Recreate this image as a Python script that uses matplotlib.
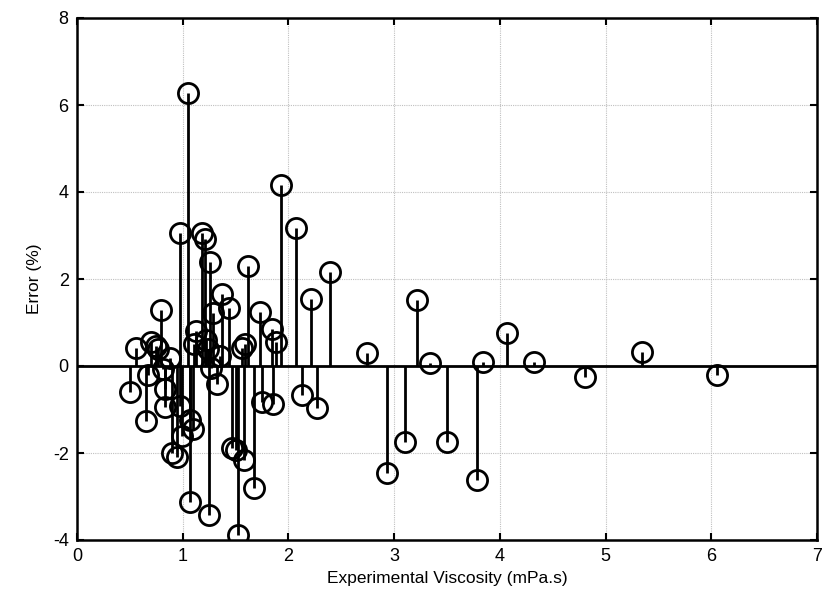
import matplotlib
matplotlib.use("Agg")
import matplotlib.pyplot as plt

viscosity = [0.50, 0.56, 0.65, 0.67, 0.70, 0.75, 0.77, 0.79, 0.81, 0.83, 0.83, 0.88,
             0.90, 0.95, 0.97, 0.97, 0.99, 1.05, 1.07, 1.07, 1.10, 1.11, 1.13, 1.18,
             1.21, 1.22, 1.24, 1.25, 1.26, 1.27, 1.29, 1.32, 1.35, 1.37, 1.44, 1.47,
             1.50, 1.52, 1.56, 1.59, 1.58, 1.62, 1.67, 1.73, 1.75, 1.84, 1.85, 1.88,
             1.93, 2.07, 2.13, 2.21, 2.27, 2.39, 2.74, 2.93, 3.10, 3.22, 3.34, 3.50,
             3.78, 3.84, 4.07, 4.32, 4.81, 5.34, 6.05]
error = [-0.60, 0.41, -1.26, -0.21, 0.55, 0.46, 0.40, 1.28, -0.06, -0.52, -0.94, 0.19,
         -1.99, -2.09, 3.05, -0.92, -1.60, 6.28, -1.23, -3.13, -1.44, 0.50, 0.80, 3.06,
         2.92, 0.60, 0.38, -3.43, 2.40, -0.05, 1.21, -0.42, 0.22, 1.65, 1.33, -1.88,
         -1.92, -3.89, 0.42, 0.50, -2.15, 2.29, -2.80, 1.23, -0.82, 0.86, -0.87, 0.55,
         4.16, 3.17, -0.67, 1.53, -0.97, 2.17, 0.30, -2.47, -1.75, 1.51, 0.06, -1.75,
         -2.63, 0.10, 0.76, 0.09, -0.26, 0.32, -0.21]

xticks = [0, 1, 2, 3, 4, 5, 6, 7]
yticks = [-4, -2, 0, 2, 4, 6, 8]

plt.rcParams['font.family'] = ['Liberation Sans', 'DejaVu Sans']
plt.rcParams['axes.unicode_minus'] = False

fig = plt.figure(figsize=(8.22, 6.06), dpi=100)
ax = fig.add_axes([77/822, 1 - 540/606, (817 - 77)/822, (540 - 18)/606])

ax.grid(True, color='#c0c0c0', linestyle=(0, (1, 1)), linewidth=0.8)
ax.set_axisbelow(True)

ax.axhline(0, color='black', linewidth=2.0, zorder=2)
ax.vlines(viscosity, 0, error, color='black', linewidth=2.0, zorder=3)
ax.plot(viscosity, error, linestyle='none', marker='o', markersize=14.5,
        markerfacecolor='none', markeredgecolor='black', markeredgewidth=2.0, zorder=4)

ax.set_xlim(0, 7)
ax.set_ylim(-4, 8)
ax.set_xticks(xticks)
ax.set_yticks(yticks)
ax.tick_params(direction='in', top=True, right=True, length=5, width=1.5,
               labelsize=13, pad=6)
for s in ax.spines.values():
    s.set_linewidth(1.8)

ax.set_xlabel('Experimental Viscosity (mPa.s)', fontsize=12.5, labelpad=4)
ax.set_ylabel('Error (%)', fontsize=12.5, labelpad=8)

fig.savefig('out.png', dpi=100)
